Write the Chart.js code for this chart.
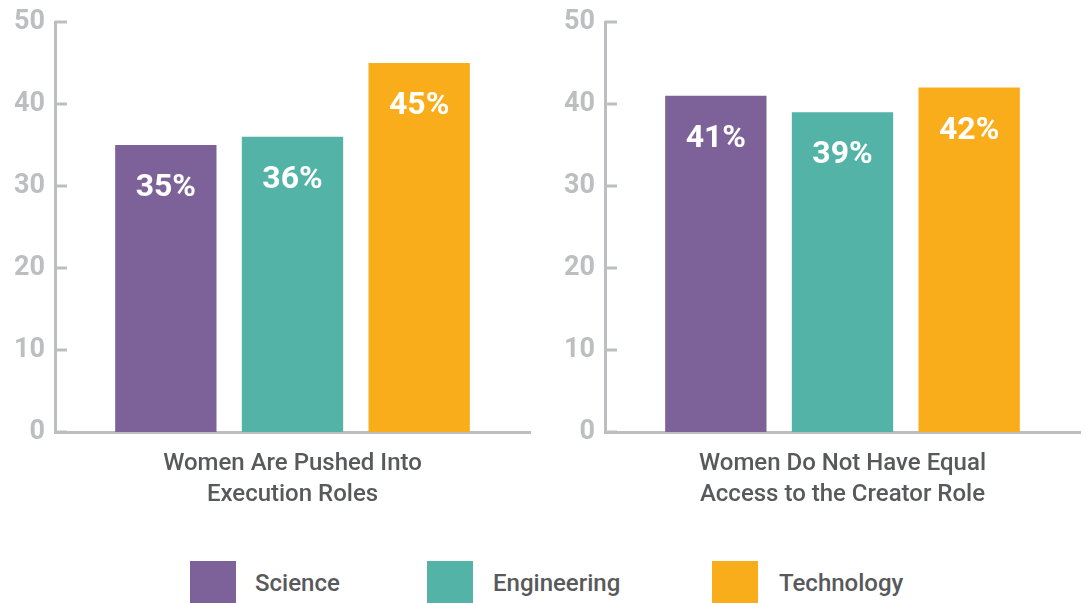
<!DOCTYPE html>
<html>
<head>
<meta charset="utf-8">
<script src="https://cdn.jsdelivr.net/npm/chart.js@4.4.1/dist/chart.umd.min.js"></script>
<style>
  html, body { margin: 0; padding: 0; background: #fff; overflow: hidden; }
  #wrap { position: relative; width: 1086px; height: 603px; font-family: Roboto, "Open Sans", sans-serif; }
  canvas { position: absolute; top: 0; }
  #c1 { left: 0; }
  #c2 { left: 543px; }
  .lg-box { position: absolute; top: 561px; width: 46px; height: 42px; }
  .lg-text { position: absolute; top: 568px; line-height: 30px; font-size: 24px; font-weight: 500; color: #58595b; white-space: nowrap; }
</style>
</head>
<body>
<div id="wrap">
  <canvas id="c1" width="543" height="520"></canvas>
  <canvas id="c2" width="543" height="520"></canvas>
  <div id="legend"></div>
</div>
<script>
// ---- data ----
const seriesNames = ['Science', 'Engineering', 'Technology'];
const seriesColors = ['#7d6299', '#52b3a6', '#faad1a'];
const panelLabels = [
  ['Women Are Pushed Into', 'Execution Roles'],
  ['Women Do Not Have Equal', 'Access to the Creator Role']
];
const scienceValues = [35, 41];
const engineeringValues = [36, 39];
const technologyValues = [45, 42];
const yTickValues = [0, 10, 20, 30, 40, 50];

const seriesValues = [scienceValues, engineeringValues, technologyValues];
const axisGray = '#bcbec0';
const textGray = '#58595b';
const FONT = 'Roboto, "Open Sans", sans-serif';

// inward tick marks on the y axis, drawn via the scale
const innerTicks = {
  id: 'innerTicks',
  afterDraw(chart) {
    const y = chart.scales.y;
    const ctx = chart.ctx;
    ctx.save();
    ctx.strokeStyle = axisGray;
    ctx.lineWidth = 3;
    yTickValues.forEach(v => {
      const py = Math.round(y.getPixelForValue(v));
      ctx.beginPath();
      ctx.moveTo(chart.chartArea.left, py);
      ctx.lineTo(chart.chartArea.left + 12, py);
      ctx.stroke();
    });
    ctx.restore();
  }
};

// value labels inside the bars
const valueLabels = {
  id: 'valueLabels',
  afterDatasetsDraw(chart) {
    const ctx = chart.ctx;
    ctx.save();
    ctx.fillStyle = '#ffffff';
    ctx.font = 'bold 32px ' + FONT;
    ctx.textAlign = 'center';
    ctx.textBaseline = 'middle';
    chart.data.datasets.forEach((ds, i) => {
      const meta = chart.getDatasetMeta(i);
      meta.data.forEach((el, j) => {
        ctx.fillText(ds.data[j] + '%', el.x, el.y + 43);
      });
    });
    ctx.restore();
  }
};

function makeChart(id, panelIndex, padLeft, padRight) {
  return new Chart(document.getElementById(id), {
    type: 'bar',
    data: {
      labels: [panelLabels[panelIndex]],
      datasets: seriesNames.map((name, i) => ({
        label: name,
        data: [seriesValues[i][panelIndex]],
        backgroundColor: seriesColors[i],
        borderWidth: 0
      }))
    },
    options: {
      responsive: false,
      animation: false,
      devicePixelRatio: 1,
      layout: { padding: { top: 22, left: padLeft, right: padRight, bottom: 0 } },
      plugins: { legend: { display: false }, tooltip: { enabled: false } },
      categoryPercentage: 0.8,
      barPercentage: 0.8,
      scales: {
        x: {
          grid: { display: false, drawTicks: false },
          border: { display: true, color: axisGray, width: 3 },
          ticks: {
            color: textGray,
            font: { family: FONT, size: 24, weight: '500', lineHeight: 1.3 },
            padding: 16,
            maxRotation: 0
          },
          afterFit(scale) { scale.height = 88; }
        },
        y: {
          min: 0,
          max: 50,
          afterBuildTicks(scale) { scale.ticks = yTickValues.map(v => ({ value: v })); },
          grid: { display: false, drawTicks: false },
          border: { display: true, color: axisGray, width: 3 },
          ticks: {
            color: axisGray,
            font: { family: FONT, size: 27, weight: 'bold', lineHeight: 0.8 },
            padding: 10
          },
          afterFit(scale) { scale.width = 55; }
        }
      }
    },
    plugins: [innerTicks, valueLabels]
  });
}

makeChart('c1', 0, 0, 13);
makeChart('c2', 1, 7, 6);

// HTML legend
const boxLefts = [190, 427, 712];
const textLefts = [255, 493, 779];
const legend = document.getElementById('legend');
seriesNames.forEach((name, i) => {
  const b = document.createElement('div');
  b.className = 'lg-box';
  b.style.left = boxLefts[i] + 'px';
  b.style.background = seriesColors[i];
  legend.appendChild(b);
  const t = document.createElement('div');
  t.className = 'lg-text';
  t.style.left = textLefts[i] + 'px';
  t.textContent = name;
  legend.appendChild(t);
});
</script>
</body>
</html>
